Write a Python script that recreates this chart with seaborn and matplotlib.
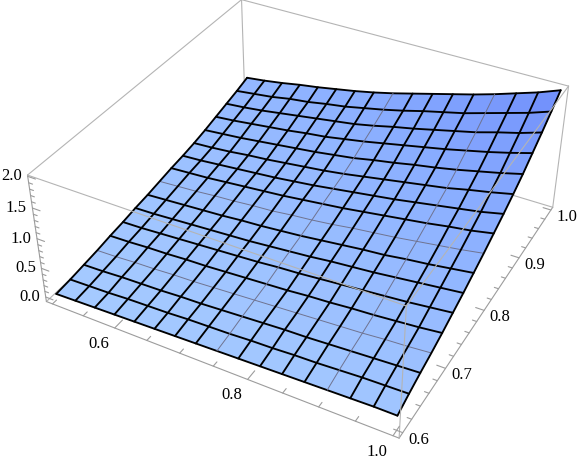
import numpy as np
import matplotlib
matplotlib.use('Agg')
import matplotlib.pyplot as plt
from mpl_toolkits.mplot3d import proj3d
import seaborn as sns

sns.set_theme(style='white')
plt.rcParams['font.family'] = ['Liberation Serif']

# surface values, one row per y value
x_grid = [0.5, 0.53125, 0.5625, 0.59375, 0.625, 0.65625, 0.6875, 0.71875, 0.75,
          0.78125, 0.8125, 0.84375, 0.875, 0.90625, 0.9375, 0.96875, 1.0]
y_grid = [0.6, 0.625, 0.65, 0.675, 0.7, 0.725, 0.75, 0.775, 0.8,
          0.825, 0.85, 0.875, 0.9, 0.925, 0.95, 0.975, 1.0]
z_rows = [
    [0.02, 0.03, 0.04, 0.05, 0.06, 0.07, 0.08, 0.09, 0.10, 0.11, 0.12, 0.13, 0.14, 0.15, 0.16, 0.17, 0.17],
    [0.04, 0.05, 0.06, 0.08, 0.09, 0.10, 0.12, 0.13, 0.14, 0.16, 0.17, 0.19, 0.20, 0.22, 0.24, 0.25, 0.26],
    [0.07, 0.08, 0.10, 0.11, 0.12, 0.14, 0.15, 0.17, 0.19, 0.21, 0.23, 0.24, 0.26, 0.28, 0.30, 0.32, 0.34],
    [0.10, 0.11, 0.13, 0.14, 0.16, 0.17, 0.19, 0.21, 0.23, 0.25, 0.27, 0.29, 0.31, 0.33, 0.36, 0.38, 0.41],
    [0.14, 0.15, 0.17, 0.18, 0.20, 0.21, 0.23, 0.25, 0.27, 0.29, 0.32, 0.34, 0.37, 0.39, 0.42, 0.45, 0.49],
    [0.17, 0.18, 0.20, 0.22, 0.24, 0.26, 0.28, 0.30, 0.33, 0.35, 0.38, 0.41, 0.44, 0.47, 0.50, 0.54, 0.58],
    [0.21, 0.22, 0.24, 0.26, 0.28, 0.30, 0.32, 0.35, 0.38, 0.41, 0.45, 0.48, 0.51, 0.55, 0.59, 0.63, 0.67],
    [0.24, 0.26, 0.28, 0.30, 0.32, 0.35, 0.37, 0.40, 0.43, 0.47, 0.51, 0.55, 0.58, 0.63, 0.67, 0.72, 0.77],
    [0.28, 0.30, 0.32, 0.35, 0.37, 0.40, 0.42, 0.46, 0.49, 0.53, 0.58, 0.62, 0.66, 0.71, 0.76, 0.81, 0.87],
    [0.32, 0.34, 0.36, 0.39, 0.42, 0.45, 0.48, 0.52, 0.56, 0.60, 0.65, 0.70, 0.75, 0.80, 0.86, 0.91, 0.98],
    [0.35, 0.37, 0.40, 0.43, 0.46, 0.49, 0.53, 0.57, 0.62, 0.67, 0.72, 0.77, 0.83, 0.89, 0.95, 1.01, 1.09],
    [0.39, 0.41, 0.44, 0.48, 0.51, 0.55, 0.59, 0.63, 0.68, 0.74, 0.80, 0.86, 0.92, 0.98, 1.06, 1.13, 1.21],
    [0.44, 0.47, 0.50, 0.54, 0.58, 0.62, 0.66, 0.71, 0.76, 0.83, 0.89, 0.96, 1.02, 1.09, 1.17, 1.25, 1.34],
    [0.50, 0.53, 0.57, 0.61, 0.65, 0.70, 0.74, 0.80, 0.86, 0.93, 1.00, 1.07, 1.14, 1.22, 1.30, 1.39, 1.49],
    [0.56, 0.59, 0.63, 0.68, 0.73, 0.78, 0.83, 0.88, 0.95, 1.03, 1.10, 1.18, 1.26, 1.34, 1.44, 1.53, 1.64],
    [0.62, 0.66, 0.70, 0.76, 0.80, 0.86, 0.91, 0.98, 1.05, 1.13, 1.22, 1.30, 1.38, 1.48, 1.58, 1.68, 1.80],
    [0.69, 0.73, 0.78, 0.84, 0.89, 0.95, 1.01, 1.08, 1.16, 1.25, 1.34, 1.43, 1.52, 1.62, 1.73, 1.84, 1.97],
]
x_major = [0.6, 0.8, 1.0]
x_minor = [0.5, 0.55, 0.65, 0.7, 0.75, 0.85, 0.9, 0.95]
y_major = [0.6, 0.7, 0.8, 0.9, 1.0]
y_minor = [0.62, 0.64, 0.66, 0.68, 0.72, 0.74, 0.76, 0.78, 0.82, 0.84, 0.86, 0.88, 0.92, 0.94, 0.96, 0.98]
z_major = [0.0, 0.5, 1.0, 1.5, 2.0]
z_minor = [0.1, 0.2, 0.3, 0.4, 0.6, 0.7, 0.8, 0.9, 1.1, 1.2, 1.3, 1.4, 1.6, 1.7, 1.8, 1.9]
gray_rows = [3, 8]
gray_cols = [8, 13]

x0, x1 = 0.49, 1.008
y0, y1 = 0.592, 1.006
z0, z1 = -0.08, 2.02

fig = plt.figure(figsize=(5.77, 4.62), dpi=100)
ax = fig.add_axes([16.08/577, 32.32/462, 1, 1], projection='3d', computed_zorder=False)
ax.view_init(36.203, -61.597, -0.027)
ax.set_proj_type('persp', focal_length=0.549)
ax.set_box_aspect((2.512, 2.513, 1), zoom=1.189)
ax.set_xlim(x0, x1)
ax.set_ylim(y0, y1)
ax.set_zlim(z0, z1)
ax.set_axis_off()

z_grid = np.array(z_rows)
X, Y = np.meshgrid(x_grid, y_grid)
cmap = sns.blend_palette(['#A6CBFF', '#8AAEFF', '#6F8DFB'], as_cmap=True)
surf = ax.plot_surface(X, Y, z_grid, rstride=1, cstride=1, cmap=cmap, vmin=0, vmax=1.97,
                       linewidth=0, shade=False, antialiased=False, zorder=2)
surf.set_clip_on(False)

# mesh lines, a few of them come out thin and gray in the original
for j in range(len(y_grid)):
    thin = j in gray_rows
    ax.plot(x_grid, [y_grid[j]]*len(x_grid), z_grid[j], color='#6F7390' if thin else 'black',
            lw=0.7 if thin else 1.35, zorder=2.5, clip_on=False)
for i in range(len(x_grid)):
    thin = i in gray_cols
    ax.plot([x_grid[i]]*len(y_grid), y_grid, z_grid[:, i], color='#6F7390' if thin else 'black',
            lw=0.7 if thin else 1.35, zorder=2.5, clip_on=False)


def seg(a, b, zo=3, c='#B4B4B4'):
    ax.plot([a[0], b[0]], [a[1], b[1]], [a[2], b[2]], color=c, lw=0.8, zorder=zo, clip_on=False)


axis_color = '#9C9C9C'
# box edges behind the surface
seg((x0, y1, z0), (x1, y1, z0), 1)
seg((x0, y1, z0), (x0, y0, z0), 1)
seg((x0, y1, z0), (x0, y1, z1), 1)
# box edges in front
seg((x0, y0, z0), (x1, y0, z0), 3, axis_color)
seg((x1, y0, z0), (x1, y1, z0), 3, axis_color)
seg((x0, y0, z0), (x0, y0, z1), 3, axis_color)
seg((x1, y1, z0), (x1, y1, z1))
seg((x1, y0, z0), (x1, y0, z1))
seg((x0, y0, z1), (x1, y0, z1))
seg((x1, y0, z1), (x1, y1, z1))
seg((x1, y1, z1), (x0, y1, z1))
seg((x0, y1, z1), (x0, y0, z1))

for t in x_major:
    seg((t, y0, z0), (t, y0+0.014, z0), 3, axis_color)
for t in x_minor:
    seg((t, y0, z0), (t, y0+0.007, z0), 3, axis_color)
for t in y_major:
    seg((x1, t, z0), (x1-0.012, t, z0), 3, axis_color)
for t in y_minor:
    seg((x1, t, z0), (x1-0.006, t, z0), 3, axis_color)
for t in z_major:
    seg((x0, y0, t), (x0+0.012, y0, t), 3, axis_color)
for t in z_minor:
    seg((x0, y0, t), (x0+0.006, y0, t), 3, axis_color)

M = ax.get_proj()


def put(pos, text, dx, dy):
    a, b, _ = proj3d.proj_transform(pos[0], pos[1], pos[2], M)
    ax.annotate(text, xy=(a, b), xycoords='data', xytext=(dx*0.72, -dy*0.72),
                textcoords='offset points', ha='center', va='center', fontsize=12,
                color='black', annotation_clip=False)


for t in x_major:
    put((t, y0, z0), f'{t:.1f}', -16, 16)
for t in y_major:
    put((x1, t, z0), f'{t:.1f}', 16, 7)
for t in z_major:
    put((x0, y0, t), f'{t:.1f}', -16, 0)

fig.savefig('out.png', dpi=100)
